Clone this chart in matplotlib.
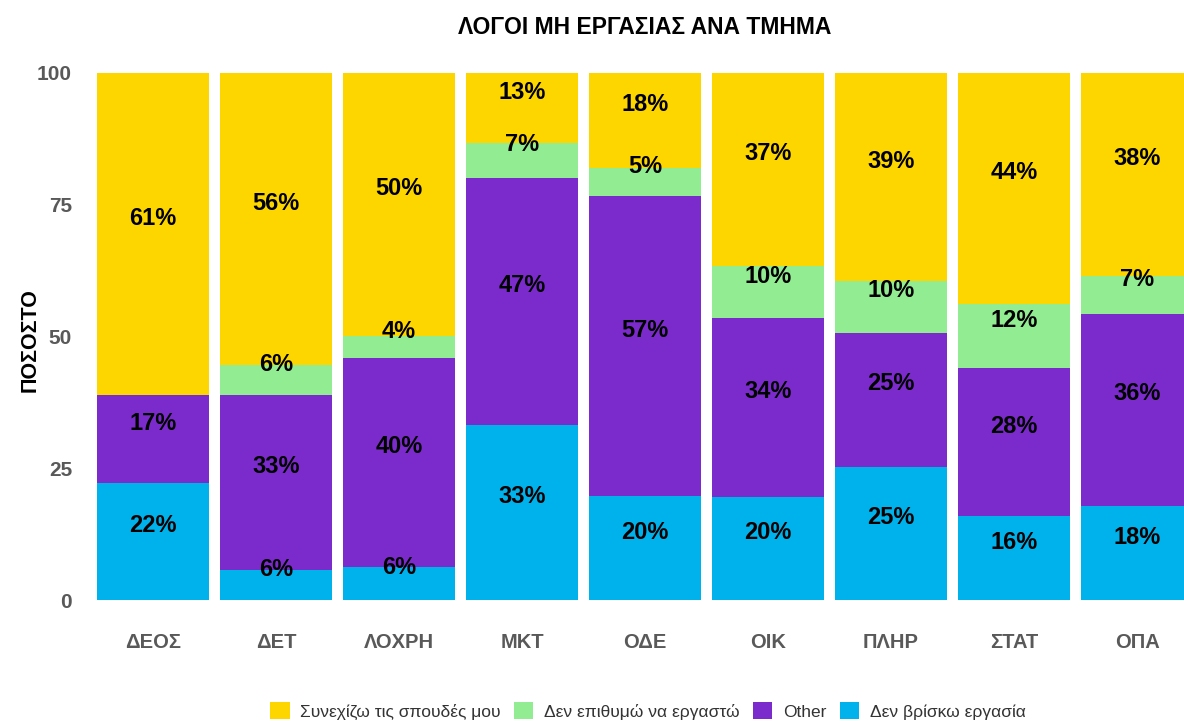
import matplotlib
matplotlib.use('Agg')
import matplotlib.pyplot as plt
import numpy as np

plt.rcParams['font.family'] = ['Liberation Sans', 'DejaVu Sans']

# data (percent of each department)
departments = ['ΔΕΟΣ', 'ΔΕΤ', 'ΛΟΧΡΗ', 'ΜΚΤ', 'ΟΔΕ', 'ΟΙΚ', 'ΠΛΗΡ', 'ΣΤΑΤ', 'ΟΠΑ']
no_job = [22.2, 5.6, 6.25, 33.3, 19.7, 19.5, 25.3, 16.0, 17.9]
other = [16.7, 33.3, 39.6, 46.7, 57.0, 34.0, 25.4, 28.0, 36.4]
no_wish = [0.0, 5.6, 4.2, 6.7, 5.3, 9.9, 9.9, 12.2, 7.2]
studies = [61.1, 55.6, 50.0, 13.3, 18.0, 36.6, 39.4, 43.8, 38.5]

series = [
    ('Δεν βρίσκω εργασία', no_job, '#00B2EB'),
    ('Other', other, '#7B2BCB'),
    ('Δεν επιθυμώ να εργαστώ', no_wish, '#92EC92'),
    ('Συνεχίζω τις σπουδές μου', studies, '#FDD600'),
]

fig = plt.figure(figsize=(11.84, 7.22), dpi=100)
ax = fig.add_axes([91.5 / 1184, 122 / 722, 1107 / 1184, 527 / 722])

x = np.arange(len(departments))
bottom = np.zeros(len(departments))
handles = {}
for name, vals, col in series:
    vals = np.array(vals)
    bars = ax.bar(x, vals, 0.91, bottom=bottom, color=col, label=name, zorder=2)
    handles[name] = bars
    for xi, b, v in zip(x, bottom, vals):
        if v > 0:
            ax.text(xi, b + v / 2 + 3.0, f'{round(v)}%', ha='center', va='center',
                    fontsize=17, fontweight='bold', color='black', zorder=3)
    bottom += vals

ax.set_xlim(-0.5, len(departments) - 0.5)
ax.set_ylim(0, 100)
ax.set_yticks([0, 25, 50, 75, 100])
ax.set_xticks(x)
ax.set_xticklabels(departments)
ax.tick_params(axis='x', length=0, pad=24, labelsize=14.5, labelcolor='#595959')
ax.tick_params(axis='y', length=0, pad=14, labelsize=15, labelcolor='#595959')
for lab in ax.get_xticklabels() + ax.get_yticklabels():
    lab.set_fontweight('bold')
for s in ax.spines.values():
    s.set_visible(False)

ax.set_title('ΛΟΓΟΙ ΜΗ ΕΡΓΑΣΙΑΣ ΑΝΑ ΤΜΗΜΑ', fontsize=16.5, fontweight='bold', pad=28)
fig.text(30 / 1184, 1 - 340 / 722, 'ΠΟΣΟΣΤΟ', rotation=90, ha='center', va='center',
         fontsize=15.5, fontweight='bold')

order = ['Συνεχίζω τις σπουδές μου', 'Δεν επιθυμώ να εργαστώ', 'Other', 'Δεν βρίσκω εργασία']
leg = fig.legend([handles[n] for n in order], order, loc='center', ncol=4,
                 bbox_to_anchor=(648 / 1184, 1 - 711 / 722), frameon=False,
                 fontsize=12.5, handlelength=1.1, handleheight=1.1,
                 handletextpad=0.6, columnspacing=0.8)
for t in leg.get_texts():
    t.set_color('#333333')

fig.savefig('out.png', dpi=100)
